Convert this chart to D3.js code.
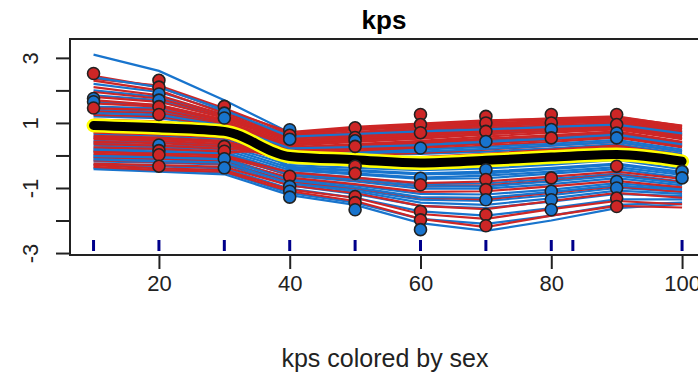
<!DOCTYPE html>
<html>
<head>
<meta charset="utf-8">
<script src="https://cdn.jsdelivr.net/npm/d3@7"></script>
<style>
  body { margin: 0; background: #fff; }
  text { font-family: "Liberation Sans", Arial, sans-serif; }
</style>
</head>
<body>
<div id="chart"></div>
<script>
// x positions of the kps measurements
var kpsX = [10, 20, 30, 40, 50, 60, 70, 80, 90, 100];

// individual curves, females (red)
var redLines = [
  [2.45, 2.10, 1.40, 0.72, 0.88, 0.98, 1.08, 1.12, 1.18, 0.92],
  [2.30, 2.00, 1.30, 0.65, 0.82, 0.95, 1.05, 1.10, 1.15, 0.88],
  [2.10, 1.85, 1.25, 0.60, 0.78, 0.90, 1.00, 1.05, 1.12, 0.85],
  [1.95, 1.75, 1.20, 0.55, 0.72, 0.85, 0.95, 1.02, 1.08, 0.80],
  [1.80, 1.65, 1.15, 0.50, 0.66, 0.80, 0.90, 0.98, 1.05, 0.74],
  [1.70, 1.55, 1.10, 0.45, 0.60, 0.72, 0.85, 0.92, 1.00, 0.70],
  [1.60, 1.50, 1.05, 0.40, 0.55, 0.68, 0.80, 0.88, 0.95, 0.65],
  [1.45, 1.40, 1.00, 0.35, 0.48, 0.60, 0.72, 0.82, 0.90, 0.60],
  [1.35, 1.30, 0.95, 0.30, 0.42, 0.52, 0.65, 0.76, 0.85, 0.55],
  [1.25, 1.20, 0.90, 0.25, 0.35, 0.45, 0.58, 0.70, 0.80, 0.50],
  [1.10, 1.05, 0.85, 0.20, 0.28, 0.38, 0.50, 0.62, 0.74, 0.42],
  [0.80, 0.75, 0.65, 0.05, 0.10, 0.20, 0.30, 0.42, 0.55, 0.25],
  [0.70, 0.65, 0.55, -0.05, 0.00, 0.08, 0.18, 0.30, 0.42, 0.12],
  [0.60, 0.55, 0.45, -0.10, -0.10, -0.05, 0.05, 0.18, 0.30, 0.00],
  [0.50, 0.45, 0.35, -0.18, -0.20, -0.18, -0.08, 0.05, 0.18, -0.12],
  [0.42, 0.38, 0.28, 0.32, 0.45, 0.56, 0.66, 0.75, 0.84, 0.52],
  [0.35, 0.30, 0.20, 0.22, 0.32, 0.42, 0.52, 0.62, 0.72, 0.40],
  [0.25, 0.20, 0.12, 0.12, 0.20, 0.28, 0.38, 0.50, 0.60, 0.28],
  [0.15, 0.10, 0.05, 0.38, 0.52, 0.64, 0.76, 0.84, 0.92, 0.62],
  [0.05, 0.00, -0.05, -0.58, -0.75, -0.95, -0.92, -0.78, -0.60, -0.82],
  [-0.05, -0.10, -0.15, -0.68, -0.88, -1.12, -1.10, -0.95, -0.78, -0.98],
  [-0.15, -0.20, -0.25, -0.80, -1.00, -1.30, -1.35, -1.15, -0.95, -1.12],
  [-0.25, -0.30, -0.35, -0.92, -1.15, -1.55, -1.65, -1.40, -1.15, -1.30],
  [-0.30, -0.40, -0.45, -1.05, -1.30, -1.80, -1.95, -1.65, -1.40, -1.50],
  [2.35, 2.15, 1.45, 0.68, 0.85, 0.96, 1.06, 1.14, 1.20, 0.90],
  [1.00, 0.95, 0.78, 0.15, 0.22, 0.30, 0.42, 0.55, 0.66, 0.36],
  [0.95, 0.90, 0.72, 0.10, 0.15, 0.25, 0.36, 0.48, 0.60, 0.30],
  [0.10, 0.05, 0.00, -0.52, -0.68, -0.85, -0.80, -0.65, -0.50, -0.72],
  [-0.35, -0.45, -0.50, -1.10, -1.40, -1.95, -2.20, -1.85, -1.55, -1.60],
  [0.55, 0.50, 0.40, -0.15, -0.15, -0.12, -0.02, 0.10, 0.24, -0.06]
];

// individual curves, males (blue)
var blueLines = [
  [3.10, 2.60, 1.70, 0.70, 0.80, 0.88, 0.95, 1.00, 1.05, 0.80],
  [2.20, 1.95, 1.35, 0.60, 0.70, 0.78, 0.85, 0.92, 0.98, 0.72],
  [2.00, 1.80, 1.25, 0.52, 0.62, 0.70, 0.78, 0.85, 0.92, 0.66],
  [1.85, 1.70, 1.18, 0.45, 0.55, 0.62, 0.70, 0.78, 0.86, 0.60],
  [1.65, 1.55, 1.08, -0.35, -0.45, -0.55, -0.50, -0.38, -0.25, -0.50],
  [1.50, 1.45, 1.02, -0.42, -0.55, -0.68, -0.62, -0.50, -0.36, -0.60],
  [1.40, 1.35, 0.98, 0.26, 0.30, 0.36, 0.46, 0.56, 0.68, 0.38],
  [1.20, 1.15, 0.88, 0.18, 0.22, 0.28, 0.38, 0.48, 0.60, 0.30],
  [0.85, 0.80, 0.70, 0.00, 0.02, 0.05, 0.12, 0.22, 0.35, 0.05],
  [0.75, 0.70, 0.60, -0.08, -0.08, -0.06, 0.02, 0.12, 0.25, -0.05],
  [0.65, 0.60, 0.50, -0.15, -0.18, -0.18, -0.10, 0.00, 0.14, -0.15],
  [0.55, 0.50, 0.42, -0.22, -0.28, -0.30, -0.24, -0.12, 0.02, -0.28],
  [0.45, 0.40, 0.32, -0.30, -0.38, -0.45, -0.40, -0.28, -0.14, -0.42],
  [0.38, 0.32, 0.25, -0.38, -0.48, -0.58, -0.55, -0.42, -0.28, -0.55],
  [0.30, 0.25, 0.18, -0.45, -0.58, -0.72, -0.70, -0.56, -0.42, -0.68],
  [0.22, 0.18, 0.10, -0.52, -0.68, -0.88, -0.86, -0.72, -0.56, -0.80],
  [0.12, 0.08, 0.02, -0.62, -0.80, -1.02, -1.02, -0.88, -0.70, -0.92],
  [0.02, -0.02, -0.08, -0.72, -0.92, -1.18, -1.20, -1.05, -0.85, -1.02],
  [-0.08, -0.12, -0.18, -0.82, -1.05, -1.36, -1.40, -1.22, -1.00, -1.12],
  [-0.18, -0.22, -0.28, -0.92, -1.18, -1.55, -1.62, -1.42, -1.18, -1.25],
  [-0.28, -0.34, -0.40, -1.02, -1.30, -1.72, -1.85, -1.62, -1.35, -1.35],
  [-0.38, -0.45, -0.52, -1.15, -1.45, -1.95, -2.10, -1.85, -1.52, -1.45],
  [-0.42, -0.50, -0.58, -1.22, -1.52, -2.08, -2.32, -2.00, -1.62, -1.50],
  [1.05, 1.00, 0.80, 0.10, 0.12, 0.18, 0.26, 0.36, 0.48, 0.18],
  [0.95, 0.90, 0.75, 0.05, 0.08, 0.12, 0.20, 0.30, 0.42, 0.12],
  [-0.02, -0.06, -0.12, -0.76, -0.98, -1.28, -1.30, -1.12, -0.92, -1.06],
  [0.18, 0.12, 0.06, -0.58, -0.74, -0.95, -0.95, -0.80, -0.62, -0.86],
  [2.40, 2.10, 1.40, 0.58, 0.66, 0.74, 0.80, 0.88, 0.95, 0.68],
  [1.30, 1.25, 0.92, 0.22, 0.26, 0.32, 0.42, 0.52, 0.64, 0.34],
  [-0.12, -0.18, -0.22, -0.86, -1.10, -1.45, -1.52, -1.32, -1.08, -1.18]
];

// mean curve
var meanLine = [0.92, 0.85, 0.74, -0.03, -0.13, -0.23, -0.15, -0.05, 0.03, -0.18];

// observed points
var ptX = [10, 10, 10, 10,
  20, 20, 20, 20, 20, 20, 20, 20, 20, 20,
  30, 30, 30, 30, 30, 30, 30,
  40, 40, 40, 40, 40, 40, 40,
  50, 50, 50, 50, 50, 50, 50, 50, 50,
  60, 60, 60, 60, 60, 60, 60, 60, 60,
  70, 70, 70, 70, 70, 70, 70, 70, 70, 70,
  80, 80, 80, 80, 80, 80, 80, 80,
  90, 90, 90, 90, 90, 90, 90, 90, 90,
  100, 100];
var ptY = [2.52, 1.75, 1.65, 1.46,
  2.31, 2.10, 1.89, 1.70, 1.50, 1.26, 0.32, 0.15, 0.02, -0.33,
  1.51, 1.30, 1.15, 0.28, 0.13, -0.10, -0.38,
  0.79, 0.62, 0.50, -0.64, -0.95, -1.10, -1.28,
  0.85, 0.55, 0.45, 0.28, -0.33, -0.55, -1.26, -1.45, -1.67,
  1.26, 0.95, 0.70, 0.23, -0.70, -0.90, -1.72, -1.98, -2.28,
  1.20, 1.00, 0.74, 0.43, -0.44, -0.74, -1.05, -1.36, -1.82, -2.16,
  1.26, 1.00, 0.80, 0.54, -0.69, -1.10, -1.36, -1.67,
  1.26, 0.95, 0.69, 0.54, -0.33, -0.80, -1.00, -1.31, -1.57,
  -0.49, -0.69];
var ptSex = ["F", "M", "M", "F",
  "F", "F", "M", "M", "F", "F", "M", "F", "F", "F",
  "F", "M", "M", "F", "F", "M", "M",
  "M", "F", "M", "F", "M", "M", "M",
  "F", "F", "M", "F", "F", "F", "F", "F", "M",
  "F", "F", "F", "M", "M", "F", "F", "F", "M",
  "F", "F", "F", "M", "M", "F", "F", "M", "F", "F",
  "F", "F", "M", "F", "F", "M", "M", "M",
  "F", "F", "M", "M", "F", "M", "M", "F", "F",
  "M", "M"];

// rug along the bottom
var rugX = [10, 20, 30, 40, 50, 60, 70, 80, 83.3, 100];

var yTicks = [-3, -2, -1, 0, 1, 2, 3];
var xTicks = [20, 40, 60, 80, 100];

var width = 698, height = 376;
var sexColor = {F: "#CD2626", M: "#1874CD"};

var svg = d3.select("#chart")
  .append("svg")
    .attr("width", width)
    .attr("height", height);

svg.append("rect").attr("width", width).attr("height", height).attr("fill", "#fff");

var x = d3.scaleLinear().domain([6.4, 103.6]).range([70, 705.6]);
var y = d3.scaleLinear().domain([-3.06, 3.58]).range([255, 39]);

var line = d3.line()
  .x(function(d, i) { return x(kpsX[i]); })
  .y(function(d) { return y(d); });

// interleave red and blue curves like the original draw order
var curves = [];
for (var i = 0; i < Math.max(redLines.length, blueLines.length); i++) {
  if (i < blueLines.length) curves.push({v: blueLines[i], c: sexColor.M});
  if (i < redLines.length) curves.push({v: redLines[i], c: sexColor.F});
}

svg.append("g")
  .selectAll("path")
  .data(curves)
  .enter()
  .append("path")
    .attr("d", function(d) { return line(d.v); })
    .attr("fill", "none")
    .attr("stroke", function(d) { return d.c; })
    .attr("stroke-width", 2.2);

// mean curve, yellow halo then black
var meanPath = d3.line()
  .x(function(d, i) { return x(kpsX[i]); })
  .y(function(d) { return y(d); })
  .curve(d3.curveMonotoneX);

svg.append("path")
  .attr("d", meanPath(meanLine))
  .attr("fill", "none")
  .attr("stroke", "#FFFF00")
  .attr("stroke-width", 14)
  .attr("stroke-linecap", "round")
  .attr("stroke-linejoin", "round");
svg.append("path")
  .attr("d", meanPath(meanLine))
  .attr("fill", "none")
  .attr("stroke", "#000")
  .attr("stroke-width", 9)
  .attr("stroke-linecap", "round")
  .attr("stroke-linejoin", "round");

// points
svg.append("g")
  .selectAll("circle")
  .data(ptX)
  .enter()
  .append("circle")
    .attr("cx", function(d) { return x(d); })
    .attr("cy", function(d, i) { return y(ptY[i]); })
    .attr("r", 6)
    .attr("fill", function(d, i) { return sexColor[ptSex[i]]; })
    .attr("stroke", "#222")
    .attr("stroke-width", 1.6);

// rug
svg.append("g")
  .selectAll("line")
  .data(rugX)
  .enter()
  .append("line")
    .attr("x1", function(d) { return x(d); })
    .attr("x2", function(d) { return x(d); })
    .attr("y1", 240)
    .attr("y2", 251)
    .attr("stroke", "#00008B")
    .attr("stroke-width", 3);

// box
svg.append("rect")
  .attr("x", 70).attr("y", 39)
  .attr("width", 635.6).attr("height", 216)
  .attr("fill", "none")
  .attr("stroke", "#222")
  .attr("stroke-width", 2);

// axes
var yAxis = svg.append("g")
  .attr("transform", "translate(70,0)")
  .call(d3.axisLeft(y).tickValues(yTicks).tickSize(14).tickPadding(16)
    .tickFormat(function(d) { return Math.abs(d) % 2 === 1 ? d : ""; }));
yAxis.select(".domain").remove();
yAxis.selectAll("line").attr("stroke", "#222").attr("stroke-width", 2);
yAxis.selectAll("text")
  .attr("x", 0).attr("dy", 0)
  .attr("transform", "translate(-32,0) rotate(-90)")
  .attr("text-anchor", "middle")
  .attr("fill", "#222")
  .style("font-size", "22px");

var xAxis = svg.append("g")
  .attr("transform", "translate(0,255)")
  .call(d3.axisBottom(x).tickValues(xTicks).tickSize(14).tickPadding(6));
xAxis.select(".domain").remove();
xAxis.selectAll("line").attr("stroke", "#222").attr("stroke-width", 2);
xAxis.selectAll("text")
  .attr("fill", "#222")
  .style("font-size", "22px");

// titles
svg.append("text")
  .attr("x", 384).attr("y", 29)
  .attr("text-anchor", "middle")
  .style("font-size", "26px")
  .style("font-weight", "bold")
  .text("kps");

svg.append("text")
  .attr("x", 385).attr("y", 367)
  .attr("text-anchor", "middle")
  .style("font-size", "25px")
  .attr("fill", "#222")
  .text("kps colored by sex");
</script>
</body>
</html>
